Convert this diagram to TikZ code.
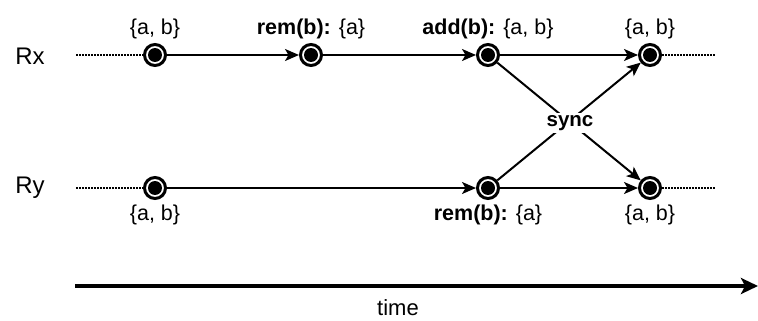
\documentclass[tikz,border=0pt]{standalone}
\usepackage{fontspec}
\setmainfont{Liberation Sans}
\usetikzlibrary{arrows.meta}
\begin{document}
\begin{tikzpicture}[x=1pt,y=-1pt,
  ev/.style={circle,draw=black,line width=3pt,fill=white,minimum size=21pt,inner sep=0pt,
    path picture={\fill[black] (path picture bounding box.center) circle (7pt);}},
  lbl/.style={font=\fontsize{21.5}{24}\selectfont,inner sep=1pt},
  rowlbl/.style={font=\fontsize{24}{27}\selectfont},
  flow/.style={line width=2pt,-{Stealth[length=14pt,width=12pt,inset=3.5pt]}},
  idle/.style={line width=1.5pt,dash pattern=on 1.5pt off 1.5pt}]
\useasboundingbox (0,0) rectangle (758,321);
\node[rowlbl] (Rx) at (30,56) {Rx};
\node[rowlbl] (Ry) at (30,188) {Ry};
\coordinate (xs) at (76,55);
\coordinate (ys) at (76,188);
\coordinate (xe) at (716,55);
\coordinate (ye) at (716,188);
\node[ev] (x1) at (155,55) {};
\node[ev] (x2) at (311,55) {};
\node[ev] (x3) at (488,55) {};
\node[ev] (x4) at (650,55) {};
\node[ev] (y1) at (155,188) {};
\node[ev] (y3) at (488,188) {};
\node[ev] (y4) at (650,188) {};
\draw[idle] (xs) -- (x1);
\draw[idle] (ys) -- (y1);
\draw[idle] (x4) -- (xe);
\draw[idle] (y4) -- (ye);
\draw[flow] (x1) -- (x2);
\draw[flow] (x2) -- (x3);
\draw[flow] (x3) -- (x4);
\draw[flow] (y1) -- (y3);
\draw[flow] (y3) -- (y4);
\draw[flow] (x3) -- (y4);
\draw[flow] (y3) -- (x4);
\node[lbl,fill=white,font=\fontsize{20.5}{23}\selectfont\bfseries,inner sep=2pt] (sync) at (570,123) {sync};
\node[lbl] (t1) at (155,29) {\{a, b\}};
\node[lbl] (t2) at (311,29) {\textbf{rem(b):} \{a\}};
\node[lbl] (t3) at (488,29) {\textbf{add(b):} \{a, b\}};
\node[lbl] (t4) at (650,29) {\{a, b\}};
\node[lbl] (b1) at (155,215) {\{a, b\}};
\node[lbl] (b3) at (488,215) {\textbf{rem(b):} \{a\}};
\node[lbl] (b4) at (650,215) {\{a, b\}};
\coordinate (ts) at (75,286);
\coordinate (te) at (758,286);
\draw[line width=4pt,-{Stealth[length=17pt,width=16pt,inset=4pt]}] (ts) -- (te);
\node[font=\fontsize{22}{25}\selectfont] (time) at (398,308) {time};
\end{tikzpicture}
\end{document}
